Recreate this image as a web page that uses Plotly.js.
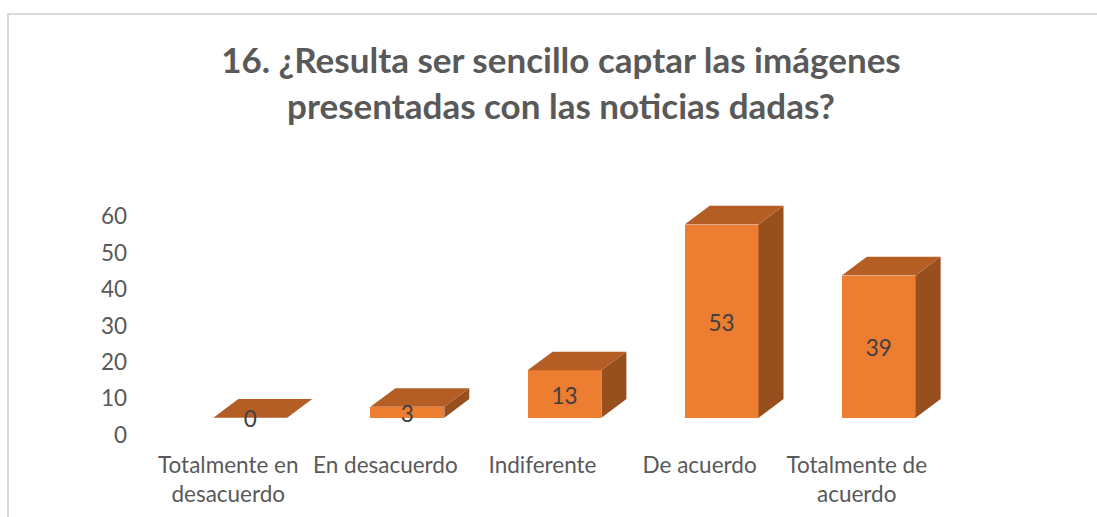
<!DOCTYPE html>
<html>
<head>
<meta charset="utf-8">
<script src="https://cdn.plot.ly/plotly-3.0.1.min.js"></script>
<style>
  html, body { margin:0; padding:0; background:#fff; overflow:hidden; }
  #wrap { position:relative; width:1097px; height:517px; }
  #chart { position:absolute; left:0; top:0; width:1097px; height:517px; }
  #frame { position:absolute; left:7px; top:13px; width:1200px; height:700px; border:2px solid #D9D9D9; pointer-events:none; }
</style>
</head>
<body>
<div id="wrap">
  <div id="chart"></div>
  <div id="frame"></div>
</div>
<script>
// ---- data ----
const categories = ["Totalmente en<br>desacuerdo", "En desacuerdo", "Indiferente", "De acuerdo", "Totalmente de<br>acuerdo"];
const values = [0, 3, 13, 53, 39];
const yTicks = [0, 10, 20, 30, 40, 50, 60];
const titleText = "16. ¿Resulta ser sencillo captar las imágenes<br>presentadas con las noticias dadas?";

// ---- style / geometry of the pseudo-3D columns ----
const FRONT = "#ED7D31", TOP = "#B45D24", SIDE = "#974F1E";
const shift = 0.14;      // front face offset from category centre
const barW = 0.47;       // front face width
const depthX = 0.159;    // depth offset in x units
const depthY = 5.13;     // depth offset in y units
const labelDrop = 1.1;   // small downward nudge of the value labels (y units)
const FONT = "Lato, 'Open Sans', sans-serif";
const TICK_SIZE = 22.5;

const idx = categories.map((_, i) => i);
const traces = [];

// front faces
traces.push({
  type: "bar", x: idx.map(i => i + shift), y: values, width: barW,
  marker: { color: FRONT, line: { width: 0 } }, hoverinfo: "skip", showlegend: false
});

// side and top faces
values.forEach((v, i) => {
  const xL = i + shift - barW / 2, xR = i + shift + barW / 2;
  if (v > 0) {
    traces.push({
      type: "scatter", mode: "lines", fill: "toself", fillcolor: SIDE,
      x: [xR, xR, xR + depthX, xR + depthX, xR],
      y: [0, v, v + depthY, depthY, 0],
      line: { width: 0, color: SIDE }, hoverinfo: "skip", showlegend: false
    });
  }
  traces.push({
    type: "scatter", mode: "lines", fill: "toself", fillcolor: TOP,
    x: [xL, xR, xR + depthX, xL + depthX, xL],
    y: [v, v, v + depthY, v + depthY, v],
    line: { width: 0, color: TOP }, hoverinfo: "skip", showlegend: false
  });
});

// data labels
traces.push({
  type: "scatter", mode: "text",
  x: idx.map(i => i + shift), y: values.map(v => v / 2 - labelDrop),
  text: values.map(String), textposition: "middle center",
  textfont: { family: FONT, size: TICK_SIZE, color: "#404040" },
  hoverinfo: "skip", showlegend: false
});

// invisible trace to carry the label axis
traces.push({
  type: "scatter", mode: "markers", x: [0], y: [0], yaxis: "y2",
  marker: { opacity: 0 }, hoverinfo: "skip", showlegend: false
});

const layout = {
  width: 1097, height: 517,
  margin: { l: 134, r: 146, t: 199, b: 81 },
  paper_bgcolor: "#ffffff", plot_bgcolor: "rgba(0,0,0,0)",
  title: {
    text: titleText, x: 0.5226, xanchor: "center", xref: "paper",
    y: 0.858, yanchor: "top", yref: "container",
    font: { family: FONT, size: 35, color: "#595959", weight: "bold" }
  },
  xaxis: {
    range: [-0.6, 4.6], tickvals: idx, ticktext: categories,
    showgrid: false, zeroline: false, showline: false, ticks: "",
    tickfont: { family: FONT, size: TICK_SIZE, color: "#595959" },
    ticklabelstandoff: 13, fixedrange: true
  },
  yaxis: {
    range: [-5, 60], showticklabels: false, showgrid: false, zeroline: false,
    showline: false, ticks: "", fixedrange: true
  },
  yaxis2: {
    overlaying: "y", side: "left", range: [-0.26, 64.74],
    tickvals: yTicks, ticktext: yTicks.map(String),
    showgrid: false, zeroline: false, showline: false, ticks: "",
    tickfont: { family: FONT, size: TICK_SIZE, color: "#595959" },
    ticklabelstandoff: 6, fixedrange: true
  },
  showlegend: false, bargap: 0
};

Plotly.newPlot("chart", traces, layout, { displayModeBar: false, staticPlot: true });
</script>
</body>
</html>
